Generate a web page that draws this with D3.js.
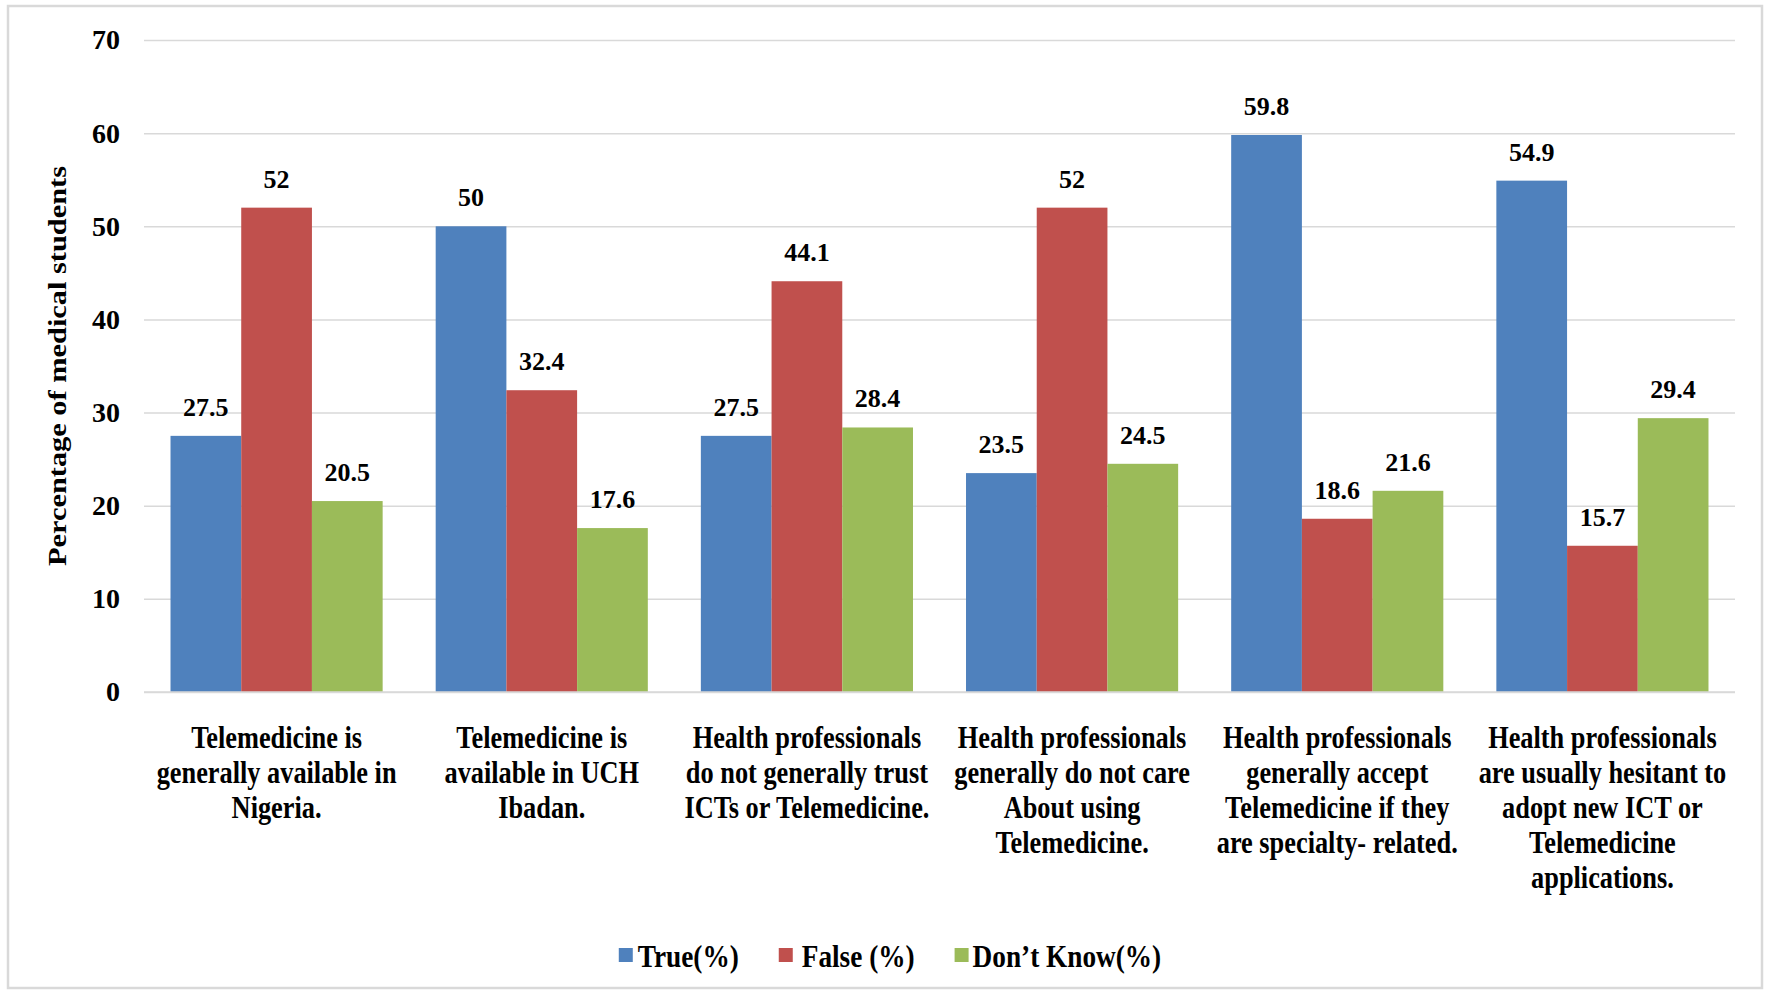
<!DOCTYPE html>
<html>
<head>
<meta charset="utf-8">
<script src="https://cdn.jsdelivr.net/npm/d3@7"></script>
<style>
  html, body { margin: 0; padding: 0; background: #fff; }
  svg { display: block; font-family: "Liberation Serif", "Times New Roman", serif; font-weight: bold; }
</style>
</head>
<body>
<svg id="chart" width="1767" height="993"></svg>
<script>
// Survey statements (each entry is split into its printed lines)
const categories = [
  ["Telemedicine is", "generally available in", "Nigeria."],
  ["Telemedicine is", "available in UCH", "Ibadan."],
  ["Health professionals", "do not generally trust", "ICTs or Telemedicine."],
  ["Health professionals", "generally do not care", "About using", "Telemedicine."],
  ["Health professionals", "generally accept", "Telemedicine if they", "are specialty- related."],
  ["Health professionals", "are usually hesitant to", "adopt new ICT or", "Telemedicine", "applications."]
];
const seriesNames = ["True(%)", "False (%)", "Don\u2019t Know(%)"];
const trueValues = [27.5, 50, 27.5, 23.5, 59.8, 54.9];
const falseValues = [52, 32.4, 44.1, 52, 18.6, 15.7];
const dontKnowValues = [20.5, 17.6, 28.4, 24.5, 21.6, 29.4];
const yTicks = [0, 10, 20, 30, 40, 50, 60, 70];
const colors = ["#4F81BD", "#C0504D", "#9BBB59"];

const seriesValues = [trueValues, falseValues, dontKnowValues];

const svg = d3.select("#chart");

// chart frame
svg.append("rect")
  .attr("x", 8).attr("y", 6).attr("width", 1754).attr("height", 982)
  .attr("fill", "#fff").attr("stroke", "#D9D9D9").attr("stroke-width", 2.5);

const plot = { left: 144, right: 1735, top: 40, bottom: 692 };

const y = d3.scaleLinear().domain([0, 70]).range([plot.bottom, plot.top]);
const x0 = d3.scaleBand().domain(d3.range(categories.length))
  .range([plot.left, plot.right]).paddingInner(0).paddingOuter(0);
// gap between groups = 75% of one bar width
const barW = x0.bandwidth() / (3 + 0.75);
const x1 = d3.scaleBand().domain(d3.range(3))
  .range([barW * 0.375, x0.bandwidth() - barW * 0.375]).padding(0);

// gridlines and tick values
const yAxis = d3.axisLeft(y).tickValues(yTicks).tickSize(-(plot.right - plot.left)).tickPadding(24)
  .tickFormat(d3.format("d"));
const gy = svg.append("g").attr("transform", `translate(${plot.left},0)`).call(yAxis);
gy.select(".domain").remove();
gy.selectAll(".tick line").attr("stroke", "#D9D9D9").attr("stroke-width", 1.5);
gy.selectAll(".tick text")
  .attr("fill", "#000").attr("font-size", 28).attr("font-weight", "bold")
  .attr("font-family", "Liberation Serif, serif");

// bars
const groups = svg.append("g").selectAll("g")
  .data(categories.map((c, i) => i))
  .join("g")
  .attr("transform", i => `translate(${x0(i)},0)`);

groups.selectAll("rect")
  .data(i => seriesValues.map((vals, s) => ({ s, v: vals[i] })))
  .join("rect")
  .attr("x", d => x1(d.s))
  .attr("y", d => y(d.v))
  .attr("width", x1.bandwidth())
  .attr("height", d => y(0) - y(d.v))
  .attr("fill", d => colors[d.s]);

// value labels above bars
groups.selectAll("text.val")
  .data(i => seriesValues.map((vals, s) => ({ s, v: vals[i] })))
  .join("text")
  .attr("class", "val")
  .attr("x", d => x1(d.s) + x1.bandwidth() / 2)
  .attr("y", d => y(d.v) - 20)
  .attr("text-anchor", "middle")
  .attr("font-size", 26)
  .attr("fill", "#000")
  .text(d => String(d.v));

// baseline
svg.append("line")
  .attr("x1", plot.left).attr("x2", plot.right)
  .attr("y1", y(0)).attr("y2", y(0))
  .attr("stroke", "#D9D9D9").attr("stroke-width", 1.5);

// category labels (condensed serif, multi-line, centred under each group)
const catG = svg.append("g").selectAll("g")
  .data(categories)
  .join("g")
  .attr("transform", (d, i) => `translate(${x0(i) + x0.bandwidth() / 2},748) scale(0.85,1)`);
catG.selectAll("text")
  .data(d => d)
  .join("text")
  .attr("x", 0)
  .attr("y", (d, j) => j * 35)
  .attr("text-anchor", "middle")
  .attr("font-size", 31)
  .attr("fill", "#000")
  .text(d => d);

// y-axis title
svg.append("text")
  .attr("transform", `translate(66,${(plot.top + plot.bottom) / 2}) rotate(-90)`)
  .attr("text-anchor", "middle")
  .attr("font-size", 26)
  .attr("textLength", 400)
  .attr("lengthAdjust", "spacingAndGlyphs")
  .attr("fill", "#000")
  .text("Percentage of medical students");

// legend
const legend = svg.append("g");
const items = legend.selectAll("g").data(seriesNames).join("g");
const textOffset = [19, 23, 18];
items.append("rect")
  .attr("width", 14).attr("height", 14)
  .attr("y", -19)
  .attr("fill", (d, i) => colors[i]);
items.append("text")
  .attr("font-size", 31)
  .attr("fill", "#000")
  .attr("transform", (d, i) => `translate(${textOffset[i]},0) scale(0.88,1)`)
  .text(d => d);
const gap = 40;
const widths = items.nodes().map((n, i) =>
  textOffset[i] + d3.select(n).select("text").node().getComputedTextLength() * 0.88);
const total = d3.sum(widths) + gap * (widths.length - 1);
const start = 890 - total / 2;
items.attr("transform", (d, i) => {
  const xPos = start + d3.sum(widths.slice(0, i)) + gap * i;
  return `translate(${xPos},967)`;
});
</script>
</body>
</html>
